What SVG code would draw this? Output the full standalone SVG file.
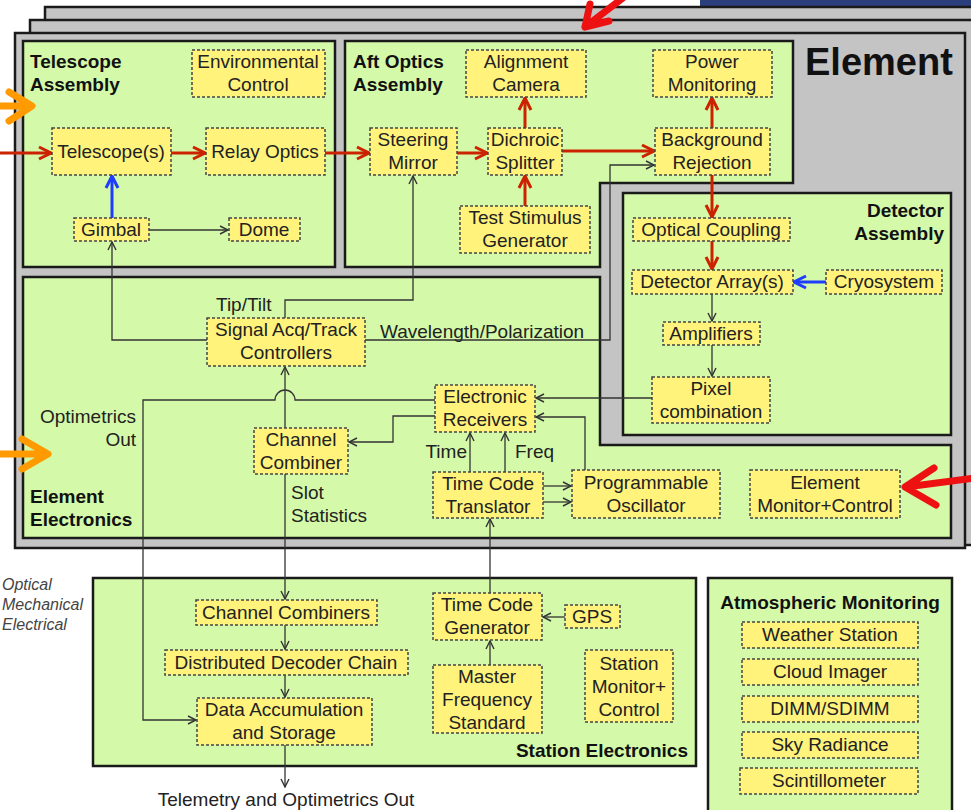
<svg xmlns="http://www.w3.org/2000/svg" width="971" height="810" viewBox="0 0 971 810">
<defs>
<style>
.panel{fill:#c4c4c4;stroke:#1a1a1a;stroke-width:2.5}
.grp{fill:#d4f9a9;stroke:#1a1a1a;stroke-width:2.5}
.node{fill:#fff37c;stroke:#444;stroke-width:1.5;stroke-dasharray:3 2}
text{font-family:"Liberation Sans",Arial,Helvetica,sans-serif;font-size:19px;fill:#222}
.c{text-anchor:middle}
.r{text-anchor:end}
.b{font-weight:bold;fill:#111}
.it{font-style:italic;font-size:16px;fill:#444}
.k{fill:none;stroke:#333;stroke-width:1.3}
.red{fill:none;stroke:#cc2200;stroke-width:3}
.blue{fill:none;stroke:#1f3dff;stroke-width:3}
.ann{fill:none;stroke-width:7;stroke-linecap:round;stroke-linejoin:round}
</style>
<marker id="ak" viewBox="0 0 10 10" refX="9" refY="5" markerWidth="10" markerHeight="10" orient="auto" markerUnits="userSpaceOnUse"><path d="M1,1 L9,5 L1,9" fill="none" stroke="#333" stroke-width="1.4"/></marker>
<marker id="ar" viewBox="0 0 16 16" refX="14" refY="8" markerWidth="16" markerHeight="16" orient="auto" markerUnits="userSpaceOnUse"><path d="M2,2 L14,8 L2,14" fill="none" stroke="#cc2200" stroke-width="3"/></marker>
<marker id="ab" viewBox="0 0 16 16" refX="14" refY="8" markerWidth="16" markerHeight="16" orient="auto" markerUnits="userSpaceOnUse"><path d="M2,2 L14,8 L2,14" fill="none" stroke="#1f3dff" stroke-width="3"/></marker>
</defs>
<rect x="0" y="0" width="971" height="810" fill="#ffffff"/>
<rect x="700" y="0" width="271" height="6" fill="#2b3f7c"/>
<g id="panels">
<rect class="panel" x="45" y="7" width="945" height="530"/>
<rect class="panel" x="30" y="20" width="950" height="525"/>
<rect class="panel" x="15" y="33" width="950" height="515"/>
<text class="b" x="805" y="75" style="font-size:38px">Element</text>
</g>
<g id="telescope-assembly">
<rect class="grp" x="23" y="41" width="312" height="226"/>
<text class="b" x="30" y="68">Telescope</text>
<text class="b" x="30" y="91">Assembly</text>
</g>
<g id="aft-optics-assembly">
<path class="grp" d="M345,41 H793 V183 H600 V267 H345 Z"/>
<text class="b" x="353" y="68">Aft Optics</text>
<text class="b" x="353" y="91">Assembly</text>
</g>
<g id="detector-assembly">
<rect class="grp" x="623" y="193" width="328" height="242"/>
<text class="b r" x="944" y="217">Detector</text>
<text class="b r" x="944" y="240">Assembly</text>
</g>
<g id="element-electronics">
<path class="grp" d="M23,277 H600 V445 H951 V538 H23 Z"/>
<text class="b" x="30" y="503">Element</text>
<text class="b" x="30" y="526">Electronics</text>
</g>
<g id="station-electronics">
<rect class="grp" x="93" y="578" width="603" height="188"/>
<text class="b r" x="688" y="757">Station Electronics</text>
</g>
<g id="atmospheric-monitoring">
<rect class="grp" x="708" y="578" width="244" height="240"/>
<text class="b c" x="830" y="609">Atmospheric Monitoring</text>
</g>
<g id="labels">
<text class="it" x="2" y="590">Optical</text>
<text class="it" x="2" y="610">Mechanical</text>
<text class="it" x="2" y="630">Electrical</text>
<text x="216" y="311">Tip/Tilt</text>
<text x="380" y="338">Wavelength/Polarization</text>
<text class="r" x="136" y="423">Optimetrics</text>
<text class="r" x="136" y="446">Out</text>
<text x="291" y="499">Slot</text>
<text x="291" y="522">Statistics</text>
<text class="r" x="467" y="458">Time</text>
<text x="515" y="458">Freq</text>
<text class="c" x="286" y="806">Telemetry and Optimetrics Out</text>
</g>
<g id="connectors">
<path class="k" marker-end="url(#ak)" d="M207,340 H112 V242"/>
<path class="k" marker-end="url(#ak)" d="M149,230 H228"/>
<path class="k" marker-end="url(#ak)" d="M285,318 V300 H413 V176"/>
<path class="k" marker-end="url(#ak)" d="M365,340 H610 V165 H654"/>
<path class="k" marker-end="url(#ak)" d="M285,428 V367"/>
<path class="k" marker-end="url(#ak)" d="M435,400 H295 A10,10 0 0 0 275,400 H143 V720 H196"/>
<path class="k" marker-end="url(#ak)" d="M435,416 H393 V442 H349"/>
<path class="k" marker-end="url(#ak)" d="M652,398 H536"/>
<path class="k" marker-end="url(#ak)" d="M470,472 V433"/>
<path class="k" marker-end="url(#ak)" d="M505,472 V433"/>
<path class="k" marker-end="url(#ak)" d="M585,470 V417 H536"/>
<path class="k" marker-end="url(#ak)" d="M543,486 H571"/>
<path class="k" marker-end="url(#ak)" d="M543,502 H571"/>
<path class="k" marker-end="url(#ak)" d="M490,593 V519"/>
<path class="k" marker-end="url(#ak)" d="M285,474 V599"/>
<path class="k" marker-end="url(#ak)" d="M285,625 V649"/>
<path class="k" marker-end="url(#ak)" d="M285,675 V697"/>
<path class="k" marker-end="url(#ak)" d="M285,745 V787"/>
<path class="k" marker-end="url(#ak)" d="M565,617 H543"/>
<path class="k" marker-end="url(#ak)" d="M490,665 V641"/>
<path class="k" marker-end="url(#ak)" d="M712,294 V321"/>
<path class="k" marker-end="url(#ak)" d="M712,345 V376"/>
<path class="red" marker-end="url(#ar)" d="M0,153 H51"/>
<path class="red" marker-end="url(#ar)" d="M171,153 H205"/>
<path class="red" marker-end="url(#ar)" d="M325,153 H369"/>
<path class="red" marker-end="url(#ar)" d="M457,153 H487"/>
<path class="red" marker-end="url(#ar)" d="M562,151 H654"/>
<path class="red" marker-end="url(#ar)" d="M525,128 V98"/>
<path class="red" marker-end="url(#ar)" d="M525,206 V176"/>
<path class="red" marker-end="url(#ar)" d="M712,128 V98"/>
<path class="red" marker-end="url(#ar)" d="M712,175 V217"/>
<path class="red" marker-end="url(#ar)" d="M712,241 V269"/>
<path class="blue" marker-end="url(#ab)" d="M112,218 V176"/>
<path class="blue" marker-end="url(#ab)" d="M826,282 H794"/>
</g>
<g id="telescope"><rect class="node" x="52" y="128" width="119" height="47"/><text class="c" x="111" y="158">Telescope(s)</text></g>
<g id="environmental-control"><rect class="node" x="192" y="50" width="133" height="47"/><text class="c" x="258" y="68">Environmental</text><text class="c" x="258" y="91">Control</text></g>
<g id="relay-optics"><rect class="node" x="206" y="128" width="119" height="47"/><text class="c" x="265" y="158">Relay Optics</text></g>
<g id="gimbal"><rect class="node" x="74" y="218" width="75" height="23"/><text class="c" x="111" y="236">Gimbal</text></g>
<g id="dome"><rect class="node" x="229" y="218" width="71" height="23"/><text class="c" x="264" y="236">Dome</text></g>
<g id="alignment-camera"><rect class="node" x="466" y="50" width="120" height="47"/><text class="c" x="526" y="68">Alignment</text><text class="c" x="526" y="91">Camera</text></g>
<g id="power-monitoring"><rect class="node" x="653" y="50" width="119" height="47"/><text class="c" x="712" y="68">Power</text><text class="c" x="712" y="91">Monitoring</text></g>
<g id="steering-mirror"><rect class="node" x="370" y="128" width="87" height="47"/><text class="c" x="413" y="146">Steering</text><text class="c" x="413" y="169">Mirror</text></g>
<g id="dichroic-splitter"><rect class="node" x="488" y="128" width="74" height="47"/><text class="c" x="525" y="146">Dichroic</text><text class="c" x="525" y="169">Splitter</text></g>
<g id="background-rejection"><rect class="node" x="655" y="128" width="115" height="47"/><text class="c" x="712" y="146">Background</text><text class="c" x="712" y="169">Rejection</text></g>
<g id="test-stimulus-generator"><rect class="node" x="460" y="206" width="130" height="47"/><text class="c" x="525" y="224">Test Stimulus</text><text class="c" x="525" y="247">Generator</text></g>
<g id="optical-coupling"><rect class="node" x="633" y="218" width="157" height="23"/><text class="c" x="711" y="236">Optical Coupling</text></g>
<g id="detector-arrays"><rect class="node" x="632" y="270" width="161" height="24"/><text class="c" x="712" y="288">Detector Array(s)</text></g>
<g id="cryosystem"><rect class="node" x="826" y="270" width="116" height="24"/><text class="c" x="884" y="288">Cryosystem</text></g>
<g id="amplifiers"><rect class="node" x="663" y="322" width="97" height="23"/><text class="c" x="711" y="340">Amplifiers</text></g>
<g id="pixel-combination"><rect class="node" x="652" y="377" width="118" height="46"/><text class="c" x="711" y="395">Pixel</text><text class="c" x="711" y="418">combination</text></g>
<g id="signal-acq"><rect class="node" x="207" y="318" width="158" height="48"/><text class="c" x="286" y="336">Signal Acq/Track</text><text class="c" x="286" y="359">Controllers</text></g>
<g id="electronic-receivers"><rect class="node" x="435" y="385" width="100" height="47"/><text class="c" x="485" y="403">Electronic</text><text class="c" x="485" y="426">Receivers</text></g>
<g id="channel-combiner"><rect class="node" x="254" y="428" width="94" height="46"/><text class="c" x="301" y="446">Channel</text><text class="c" x="301" y="469">Combiner</text></g>
<g id="time-code-translator"><rect class="node" x="433" y="472" width="110" height="46"/><text class="c" x="488" y="490">Time Code</text><text class="c" x="488" y="513">Translator</text></g>
<g id="programmable-oscillator"><rect class="node" x="572" y="470" width="148" height="48"/><text class="c" x="646" y="489">Programmable</text><text class="c" x="646" y="512">Oscillator</text></g>
<g id="element-monitor"><rect class="node" x="750" y="470" width="150" height="48"/><text class="c" x="825" y="489">Element</text><text class="c" x="825" y="512">Monitor+Control</text></g>
<g id="channel-combiners"><rect class="node" x="196" y="600" width="181" height="25"/><text class="c" x="286" y="619">Channel Combiners</text></g>
<g id="distributed-decoder-chain"><rect class="node" x="165" y="650" width="243" height="25"/><text class="c" x="286" y="669">Distributed Decoder Chain</text></g>
<g id="data-accumulation"><rect class="node" x="197" y="698" width="175" height="47"/><text class="c" x="284" y="716">Data Accumulation</text><text class="c" x="284" y="739">and Storage</text></g>
<g id="time-code-generator"><rect class="node" x="433" y="593" width="109" height="47"/><text class="c" x="487" y="611">Time Code</text><text class="c" x="487" y="634">Generator</text></g>
<g id="gps"><rect class="node" x="565" y="605" width="55" height="23"/><text class="c" x="592" y="623">GPS</text></g>
<g id="master-frequency-standard"><rect class="node" x="433" y="665" width="109" height="68"/><text class="c" x="487" y="683">Master</text><text class="c" x="487" y="706">Frequency</text><text class="c" x="487" y="729">Standard</text></g>
<g id="station-monitor"><rect class="node" x="585" y="650" width="88" height="72"/><text class="c" x="629" y="670">Station</text><text class="c" x="629" y="693">Monitor+</text><text class="c" x="629" y="716">Control</text></g>
<g id="weather-station"><rect class="node" x="742" y="622" width="176" height="26"/><text class="c" x="830" y="641">Weather Station</text></g>
<g id="cloud-imager"><rect class="node" x="742" y="659" width="176" height="26"/><text class="c" x="830" y="678">Cloud Imager</text></g>
<g id="dimm"><rect class="node" x="742" y="696" width="176" height="26"/><text class="c" x="830" y="715">DIMM/SDIMM</text></g>
<g id="sky-radiance"><rect class="node" x="742" y="732" width="176" height="26"/><text class="c" x="830" y="751">Sky Radiance</text></g>
<g id="scintillometer"><rect class="node" x="740" y="768" width="178" height="26"/><text class="c" x="829" y="787">Scintillometer</text></g>
<g id="annotations">
<path class="ann" stroke="#ff9a00" d="M-4,106 H30 M9,92 L32,106 L9,121"/>
<path class="ann" stroke="#ff9a00" d="M-4,454 H46 M22,439 L48,454 L22,469"/>
<path class="ann" stroke="#ee1111" d="M975,478 L906,487 M934,468 L905,487 L936,505"/>
<path class="ann" stroke="#ee1111" d="M585,27 L628,-6 M590,4 L585,27 L609,21"/>
</g>
</svg>
